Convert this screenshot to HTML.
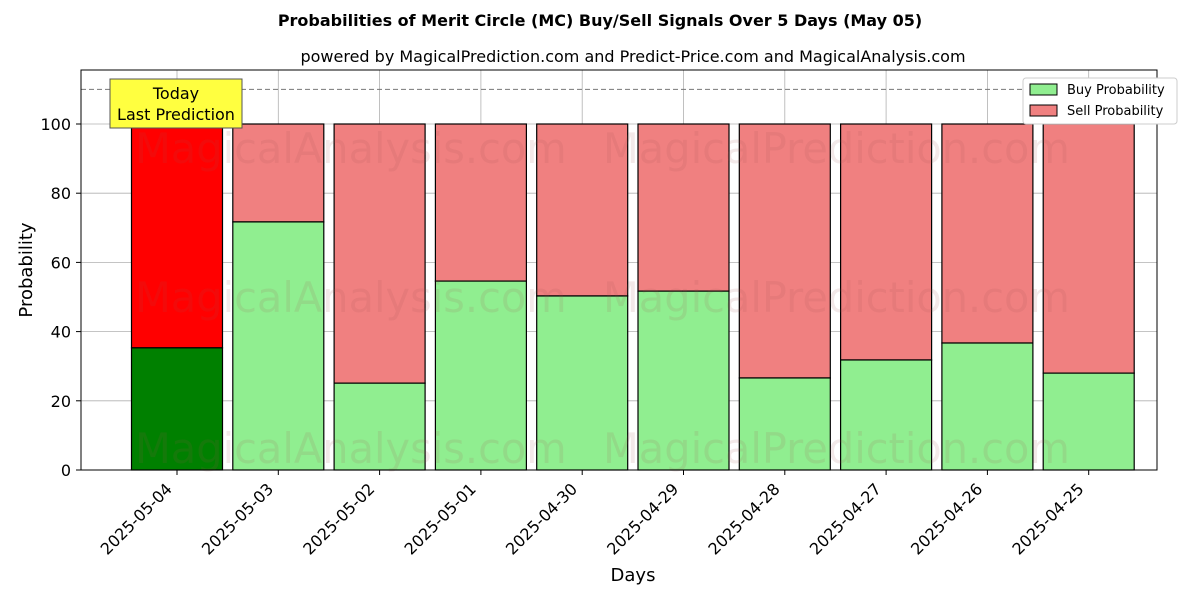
<!DOCTYPE html>
<html><head><meta charset="utf-8"><style>
body{margin:0;background:#fff;font-family:"DejaVu Sans","Liberation Sans",sans-serif;}
svg text{font-family:"DejaVu Sans","Liberation Sans",sans-serif;}
</style></head><body>
<svg id="chart" width="1200" height="600" xmlns="http://www.w3.org/2000/svg">
<rect width="1200" height="600" fill="#fff"/>
<text x="600" y="26" text-anchor="middle" font-size="16" font-weight="bold">Probabilities of Merit Circle (MC) Buy/Sell Signals Over 5 Days (May 05)</text>
<text x="633" y="62" text-anchor="middle" font-size="16">powered by MagicalPrediction.com and Predict-Price.com and MagicalAnalysis.com</text>
<g id="grid"></g>
<g id="bars"></g>
<g id="wm" fill="#a05050" opacity="0.12" font-size="41.5">
<text x="135" y="163">MagicalAnalysis.com</text><text x="603" y="163">MagicalPrediction.com</text>
<text x="135" y="312">MagicalAnalysis.com</text><text x="603" y="312">MagicalPrediction.com</text>
<text x="135" y="463">MagicalAnalysis.com</text><text x="603" y="463">MagicalPrediction.com</text>
</g>
<line x1="81" x2="1157" y1="89.4" y2="89.4" stroke="#777" stroke-dasharray="5,3"/>
<g id="axes"></g>
<rect x="81" y="70" width="1076" height="400" fill="none" stroke="#000"/>
<g>
<rect x="110" y="79" width="132" height="49" fill="#ffff40" stroke="#555"/>
<text x="176" y="99" text-anchor="middle" font-size="16">Today</text>
<text x="176" y="120" text-anchor="middle" font-size="16">Last Prediction</text>
</g>
<g>
<rect x="1023" y="78" width="154" height="46" fill="#fff" stroke="#ccc" rx="3"/>
<rect x="1030" y="84" width="27" height="11" fill="#90ee90" stroke="#000"/>
<text x="1067" y="94" font-size="13">Buy Probability</text>
<rect x="1030" y="105" width="27" height="11" fill="#f08080" stroke="#000"/>
<text x="1067" y="115" font-size="13">Sell Probability</text>
</g>
<text x="633" y="581" text-anchor="middle" font-size="18">Days</text>
<text x="32" y="270" text-anchor="middle" font-size="18" transform="rotate(-90 32 270)">Probability</text>
</svg>
<script>
const categories=["2025-05-04","2025-05-03","2025-05-02","2025-05-01","2025-04-30","2025-04-29","2025-04-28","2025-04-27","2025-04-26","2025-04-25"];
const buyValues=[35.3,71.7,25.1,54.6,50.3,51.7,26.6,31.8,36.7,28.0];
const yTicks=[0,20,40,60,80,100];
const NS="http://www.w3.org/2000/svg";
const y=v=>470-v*3.46;
const x=i=>177+i*101.3;
const bw=91;
function mk(t,a,p){const e=document.createElementNS(NS,t);for(const k in a)e.setAttribute(k,a[k]);p.appendChild(e);return e;}
const grid=document.getElementById('grid'),bars=document.getElementById('bars'),axes=document.getElementById('axes');
yTicks.forEach(t=>{
 const g=mk('line',{x1:81,x2:1157,y1:y(t),y2:y(t),stroke:'#b0b0b0','stroke-width':0.8},grid);
 
 
 mk('line',{x1:76,x2:81,y1:y(t),y2:y(t),stroke:'#000'},axes);
 const tx=mk('text',{x:71,y:y(t)+6,'text-anchor':'end','font-size':16},axes);tx.textContent=t;
 
 
});
categories.forEach((c,i)=>{
 const g=mk('line',{x1:x(i),x2:x(i),y1:70,y2:470,stroke:'#b0b0b0','stroke-width':0.8},grid);
 
 
 const b=buyValues[i];
 const sell=mk('rect',{x:x(i)-bw/2,y:y(100),width:bw,height:y(b)-y(100),fill:i==0?'#ff0000':'#f08080',stroke:'#000','stroke-width':1.2},bars);
 
 
 const buy=mk('rect',{x:x(i)-bw/2,y:y(b),width:bw,height:y(0)-y(b),fill:i==0?'#008000':'#90ee90',stroke:'#000','stroke-width':1.2},bars);
 
 
 mk('line',{x1:x(i),x2:x(i),y1:470,y2:475,stroke:'#000'},axes);
 const lx=x(i)-4, ly=490;
 const tx=mk('text',{x:lx,y:ly,'text-anchor':'end','font-size':16,transform:`rotate(-45 ${lx} ${ly})`},axes);tx.textContent=c;
 
 
});
</script>
</body></html>
